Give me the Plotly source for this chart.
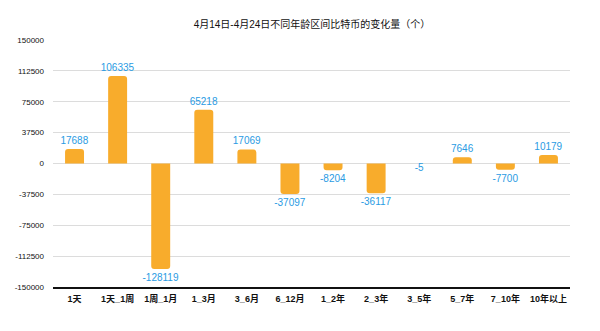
import plotly.graph_objects as go

categories = ["1天", "1天_1周", "1周_1月", "1_3月", "3_6月", "6_12月",
              "1_2年", "2_3年", "3_5年", "5_7年", "7_10年", "10年以上"]
values = [17688, 106335, -128119, 65218, 17069, -37097,
          -8204, -36117, -5, 7646, -7700, 10179]
y_ticks = [150000, 112500, 75000, 37500, 0, -37500, -75000, -112500, -150000]

font_family = "Liberation Sans, Noto Sans CJK SC, sans-serif"
label_color = "#2A9BE3"

# tiny bars: Plotly can't tell their direction, so label them with a text trace
tiny = [abs(v) < 500 for v in values]

fig = go.Figure(go.Bar(
    x=categories, y=values,
    marker=dict(color="#F8AC2C", line=dict(width=0)),
    width=0.44,
    text=["" if t else str(v) for v, t in zip(values, tiny)],
    textposition="outside",
    constraintext="none",
    textfont=dict(color=label_color, size=10, family=font_family),
    cliponaxis=False,
))
fig.add_trace(go.Scatter(
    x=[c for c, t in zip(categories, tiny) if t],
    y=[v for v, t in zip(values, tiny) if t],
    text=[str(v) for v, t in zip(values, tiny) if t],
    mode="text", textposition="bottom center",
    textfont=dict(color=label_color, size=10, family=font_family),
    hoverinfo="skip",
))

fig.update_layout(
    width=600, height=331,
    margin=dict(l=53, r=30, t=40, b=44),
    paper_bgcolor="white", plot_bgcolor="white",
    barcornerradius=3,
    showlegend=False,
    title=dict(text="4月14日-4月24日不同年龄区间比特币的变化量（个）",
               x=0.52, xanchor="center", y=0.925, yanchor="middle",
               font=dict(size=10, color="#111", family=font_family)),
    font=dict(family=font_family),
)
fig.update_yaxes(
    range=[-150000, 150000], tickvals=y_ticks, ticktext=[str(t) for t in y_ticks],
    showgrid=True, gridcolor="#DCDCDC", gridwidth=1,
    zeroline=True, zerolinecolor="#DCDCDC", zerolinewidth=1,
    tickfont=dict(size=8, color="#111"), ticklabelstandoff=8,
    showline=False,
)
fig.update_xaxes(
    showline=True, linecolor="#111", linewidth=2,
    tickfont=dict(size=9, color="#111", family=font_family, weight="bold"),
    ticks="", ticklabelstandoff=2,
)

fig.write_html("out.html")
